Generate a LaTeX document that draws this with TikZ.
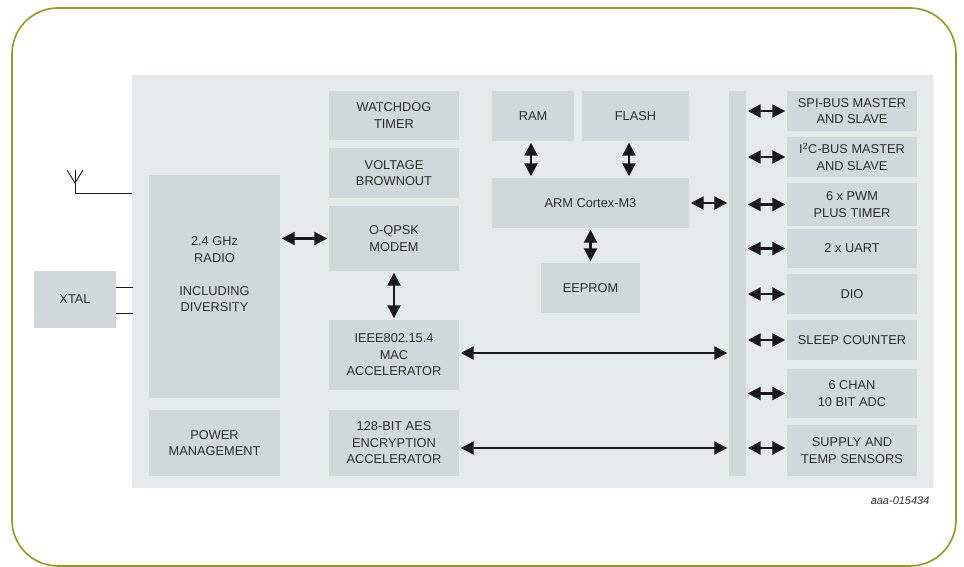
\documentclass[tikz,border=0pt]{standalone}
\usepackage{fontspec}
\setmainfont{Liberation Sans}
\usetikzlibrary{arrows.meta,calc}
\definecolor{frame}{RGB}{152,152,28}
\definecolor{chipbg}{RGB}{228,234,234}
\definecolor{boxbg}{RGB}{208,216,219}
\definecolor{txt}{RGB}{45,45,45}
\definecolor{arr}{RGB}{25,25,25}
\tikzset{
  blk/.style={fill=boxbg, draw=none, inner sep=0pt, align=center, text=txt,
    font=\fontsize{12.8}{16.5}\selectfont},
  dbl/.style={draw=arr, line width=2.2pt,
    {Triangle[length=13pt,width=13pt]}-{Triangle[length=13pt,width=13pt]},
    shorten <=1.5pt, shorten >=1.5pt},
  wire/.style={draw=arr, line width=0.9pt},
}
\begin{document}
\begin{tikzpicture}[x=1pt,y=-1pt]
\useasboundingbox (0,0) rectangle (964,567);
\draw[frame, line width=1.6pt, rounded corners=46pt] (12,8) rectangle (956,566);
\node[fill=chipbg, inner sep=0pt, minimum width=801pt, minimum height=413pt] (chip) at (532.5,281.5) {};
% left column
\node[blk, minimum width=131pt, minimum height=223pt] (radio) at (214.5,286.5) {};
\node[txt, align=center, font=\fontsize{12.8}{16.5}\selectfont] (radiotext) at (214.5,274.5) {2.4 GHz\\RADIO\\[16.5pt]INCLUDING\\DIVERSITY};
\node[blk, minimum width=82pt, minimum height=57pt] (xtal) at (75,299.5) {XTAL};
\node[blk, minimum width=131pt, minimum height=66pt] (power) at (214.5,443) {POWER\\MANAGEMENT};
% second column
\node[blk, minimum width=130pt, minimum height=49pt] (wdt) at (394,115.5) {WATCHDOG\\TIMER};
\node[blk, minimum width=130pt, minimum height=50pt] (vbo) at (394,173) {VOLTAGE\\BROWNOUT};
\node[blk, minimum width=130pt, minimum height=65pt] (modem) at (394,238.5) {O-QPSK\\MODEM};
\node[blk, minimum width=130pt, minimum height=70pt] (mac) at (394,355) {IEEE802.15.4\\MAC\\ACCELERATOR};
\node[blk, minimum width=130pt, minimum height=66pt] (aes) at (394,443) {128-BIT AES\\ENCRYPTION\\ACCELERATOR};
% core
\node[blk, minimum width=82pt, minimum height=50pt] (ram) at (533,116) {RAM};
\node[blk, minimum width=107pt, minimum height=50pt] (flash) at (635.5,116) {FLASH};
\node[blk, minimum width=197pt, minimum height=50pt] (arm) at (590.5,203) {ARM Cortex-M3};
\node[blk, minimum width=99pt, minimum height=50pt] (eeprom) at (590.5,288) {EEPROM};
% bus
\node[blk, minimum width=17pt, minimum height=385pt] (bus) at (737.5,283.5) {};
% peripherals
\node[blk, minimum width=130pt, minimum height=40pt] (spi) at (852,111) {SPI-BUS MASTER\\AND SLAVE};
\node[blk, minimum width=130pt, minimum height=40pt] (i2c) at (852,157) {I\textsuperscript{2}C-BUS MASTER\\AND SLAVE};
\node[blk, minimum width=130pt, minimum height=43pt] (pwm) at (852,204.5) {6 x PWM\\PLUS TIMER};
\node[blk, minimum width=130pt, minimum height=39pt] (uart) at (852,248.5) {2 x UART};
\node[blk, minimum width=130pt, minimum height=40pt] (dio) at (852,294) {DIO};
\node[blk, minimum width=130pt, minimum height=40pt] (sleep) at (852,340) {SLEEP COUNTER};
\node[blk, minimum width=130pt, minimum height=49pt] (adc) at (852,393.5) {6 CHAN\\10 BIT ADC};
\node[blk, minimum width=130pt, minimum height=51pt] (supply) at (852,450.5) {SUPPLY AND\\TEMP SENSORS};
% antenna and crystal wires
\coordinate (antbase) at (75,193.5);
\coordinate (anttop) at (75,170);
\coordinate (antv) at (75,183);
\coordinate (antl) at (67,170);
\coordinate (antr) at (83,170);
\draw[wire] (chip.west |- antbase) -- (antbase) -- (anttop);
\draw[wire] (antl) -- (antv) -- (antr);
\coordinate (x1a) at (116,287);
\coordinate (x1b) at (132.5,287);
\coordinate (x2a) at (116,313);
\coordinate (x2b) at (132.5,313);
\draw[wire] (x1a) -- (x1b);
\draw[wire] (x2a) -- (x2b);
% arrows
\draw[dbl] (modem.west -| radio.east) -- (modem.west);
\draw[dbl] (modem.south) -- (mac.north);
\draw[dbl] ([yshift=2pt]mac.east) -- ([yshift=2pt]mac.east -| bus.west);
\draw[dbl] ([yshift=-5pt]aes.east) -- ([yshift=-5pt]aes.east -| bus.west);
\draw[dbl] ([xshift=-2pt]ram.south) -- ([xshift=-2pt]ram.south |- arm.north);
\draw[dbl] ([xshift=-6.5pt]flash.south) -- ([xshift=-6.5pt]flash.south |- arm.north);
\draw[dbl] (arm.south) -- (eeprom.north);
\draw[dbl] (arm.east) -- (arm.east -| bus.west);
\foreach \p in {spi,i2c,pwm,uart,dio,sleep,adc}
  \draw[dbl] (\p.west -| bus.east) -- (\p.west);
\draw[dbl] ([yshift=2.5pt]supply.west -| bus.east) -- ([yshift=2.5pt]supply.west);
\node[anchor=east, text=txt, font=\fontsize{11}{13}\selectfont\itshape] (code) at (933,501) {aaa-015434};
\end{tikzpicture}
\end{document}
